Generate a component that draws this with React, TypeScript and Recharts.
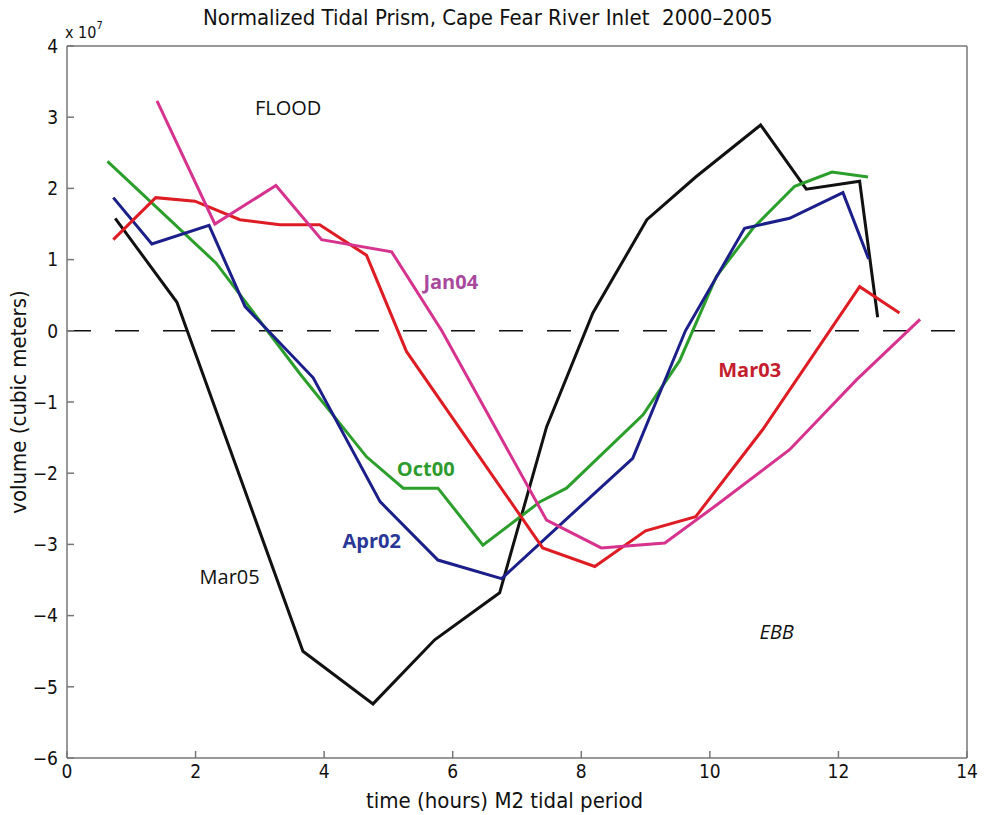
import React from 'react';
import { LineChart, Line, XAxis, YAxis, ReferenceLine, ReferenceDot } from 'recharts';

// volumes in units of 1e7 cubic meters, time in hours of the M2 tidal period
const mar05Hours = [0.75, 1.71, 3.67, 4.76, 5.72, 6.73, 7.46, 8.18, 9.02, 9.78, 10.79, 11.5, 12.33, 12.61];
const mar05Volume = [1.58, 0.4, -4.5, -5.24, -4.34, -3.68, -1.35, 0.25, 1.56, 2.16, 2.89, 1.99, 2.1, 0.19];

const oct00Hours = [0.63, 2.32, 3.62, 4.66, 5.23, 5.77, 6.47, 7.36, 7.77, 8.96, 9.53, 10.1, 10.67, 11.32, 11.9, 12.46];
const oct00Volume = [2.38, 0.95, -0.6, -1.77, -2.21, -2.21, -3.01, -2.4, -2.21, -1.18, -0.42, 0.76, 1.44, 2.03, 2.23, 2.16];

const apr02Hours = [0.72, 1.32, 2.21, 2.77, 3.83, 4.87, 5.77, 6.76, 8.8, 9.62, 10.54, 11.24, 12.07, 12.47];
const apr02Volume = [1.87, 1.22, 1.48, 0.34, -0.66, -2.4, -3.22, -3.48, -1.79, 0.0, 1.44, 1.58, 1.94, 1.01];

const mar03Hours = [0.72, 1.38, 1.99, 2.69, 3.31, 3.93, 4.66, 5.28, 7.4, 8.21, 9.0, 9.78, 10.82, 12.33, 12.95];
const mar03Volume = [1.28, 1.87, 1.82, 1.56, 1.49, 1.49, 1.06, -0.29, -3.05, -3.31, -2.81, -2.61, -1.39, 0.62, 0.25];

const jan04Hours = [1.4, 2.3, 3.25, 3.96, 5.05, 5.83, 7.46, 8.31, 9.3, 10.1, 11.24, 12.28, 13.27];
const jan04Volume = [3.23, 1.5, 2.04, 1.28, 1.11, 0.0, -2.66, -3.05, -2.98, -2.45, -1.67, -0.69, 0.16];

const xTicks = [0, 2, 4, 6, 8, 10, 12, 14];
const yTicks = [-6, -5, -4, -3, -2, -1, 0, 1, 2, 3, 4];

const toPoints = (hours: number[], volume: number[]) => hours.map((t, i) => ({ t, v: volume[i] }));

const series = [
  { name: 'Mar05', color: '#111111', data: toPoints(mar05Hours, mar05Volume) },
  { name: 'Oct00', color: '#2b9e2b', data: toPoints(oct00Hours, oct00Volume) },
  { name: 'Apr02', color: '#1c1f8a', data: toPoints(apr02Hours, apr02Volume) },
  { name: 'Mar03', color: '#de1c24', data: toPoints(mar03Hours, mar03Volume) },
  { name: 'Jan04', color: '#d6338f', data: toPoints(jan04Hours, jan04Volume) },
];

// in-plot annotations, placed in data units
const notes = [
  { text: 'FLOOD', t: 3.44, v: 3.13, color: '#111', weight: 400, italic: false },
  { text: 'Jan04', t: 5.97, v: 0.69, color: '#a8499d', weight: 700, italic: false },
  { text: 'Mar03', t: 10.62, v: -0.55, color: '#c41d2e', weight: 700, italic: false },
  { text: 'Oct00', t: 5.58, v: -1.94, color: '#2e9b2e', weight: 700, italic: false },
  { text: 'Apr02', t: 4.74, v: -2.95, color: '#2b3797', weight: 700, italic: false },
  { text: 'Mar05', t: 2.53, v: -3.46, color: '#111', weight: 400, italic: false },
  { text: 'EBB', t: 11.04, v: -4.23, color: '#111', weight: 400, italic: true },
];

const NARROW = '"Liberation Sans Narrow", "DejaVu Sans Condensed", "Open Sans", sans-serif';
const LABEL_FONT = '"Open Sans", "Noto Sans", sans-serif';
const axisColor = '#777';
const fmt = (v: number) => (v < 0 ? '\u2212' + Math.abs(v) : String(v));

export default function App() {
  return (
    <div style={{ position: 'absolute', left: 0, top: 0, width: 984, height: 815, background: '#fff' }}>
      <LineChart width={984} height={815} data={[]} margin={{ top: 45, right: 16, bottom: 0, left: 0 }}>
        <XAxis
          dataKey="t"
          type="number"
          domain={[0, 14]}
          ticks={xTicks}
          height={57}
          tickSize={-7}
          tickMargin={14}
          stroke={axisColor}
          strokeWidth={1.5}
          tick={{ fill: '#111', fontSize: 19, fontFamily: NARROW }}
        />
        <XAxis
          xAxisId="top"
          orientation="top"
          type="number"
          domain={[0, 14]}
          ticks={xTicks}
          height={1}
          tickSize={-7}
          stroke={axisColor}
          strokeWidth={1.5}
          tickFormatter={() => ''}
        />
        <YAxis
          type="number"
          domain={[-6, 4]}
          ticks={yTicks}
          width={67}
          tickSize={-7}
          tickMargin={16}
          stroke={axisColor}
          strokeWidth={1.5}
          tickFormatter={fmt}
          tick={{ fill: '#111', fontSize: 19, fontFamily: NARROW }}
        />
        <YAxis
          yAxisId="right"
          orientation="right"
          type="number"
          domain={[-6, 4]}
          ticks={yTicks}
          width={1}
          tickSize={-7}
          stroke={axisColor}
          strokeWidth={1.5}
          tickFormatter={() => ''}
        />
        <ReferenceLine y={0} stroke="#111" strokeWidth={1.6} strokeDasharray="24 24" />
        {series.map((s) => (
          <Line
            key={s.name}
            data={s.data}
            dataKey="v"
            type="linear"
            stroke={s.color}
            strokeWidth={3}
            dot={false}
            activeDot={false}
            isAnimationActive={false}
          />
        ))}
        {notes.map((n) => (
          <ReferenceDot
            key={n.text}
            x={n.t}
            y={n.v}
            r={0}
            fill="none"
            stroke="none"
            label={{
              value: n.text,
              position: 'center',
              fill: n.color,
              fontSize: 20,
              fontWeight: n.weight,
              fontStyle: n.italic ? 'italic' : 'normal',
              fontFamily: LABEL_FONT,
            }}
          />
        ))}
      </LineChart>

      <div style={{ position: 'absolute', left: 203, top: 5, fontFamily: NARROW, fontSize: 22, color: '#111', whiteSpace: 'nowrap' }}>
        Normalized Tidal Prism, Cape Fear River Inlet&nbsp;&nbsp;2000–2005
      </div>
      <div style={{ position: 'absolute', left: 65, top: 22, fontFamily: NARROW, fontSize: 16, color: '#111', whiteSpace: 'nowrap' }}>
        x 10<sup style={{ fontSize: 11, position: 'relative', top: -3 }}>7</sup>
      </div>
      <div style={{ position: 'absolute', left: 366, top: 788, fontFamily: NARROW, fontSize: 22, color: '#111', whiteSpace: 'nowrap' }}>
        time (hours) M2 tidal period
      </div>
      <div
        style={{
          position: 'absolute',
          left: 18,
          top: 402,
          transform: 'translate(-50%, -50%) rotate(-90deg)',
          fontFamily: NARROW,
          fontSize: 22,
          color: '#111',
          whiteSpace: 'nowrap',
        }}
      >
        volume (cubic meters)
      </div>
    </div>
  );
}
